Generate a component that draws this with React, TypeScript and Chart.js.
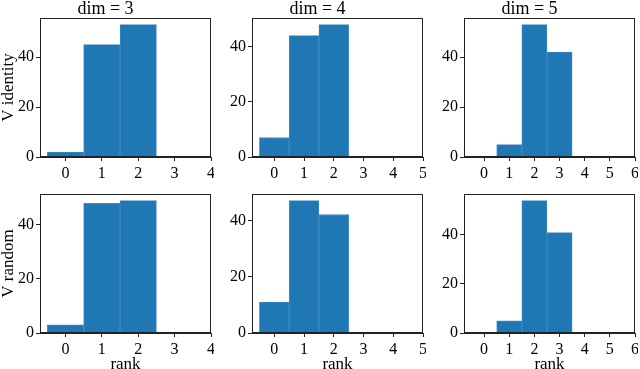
import React, { useEffect, useRef } from "react";
import { Chart, registerables } from "chart.js";

Chart.register(...registerables);

const dims = [3, 4, 5];
const titles = ["dim = 3", "dim = 4", "dim = 5"];
const rowLabels = ["V identity", "V random"];
const xLabel = "rank";

const ranks3 = [0, 1, 2, 3];
const ranks4 = [0, 1, 2, 3, 4];
const ranks5 = [0, 1, 2, 3, 4, 5];

const vIdentity3 = [2, 45, 53, 0];
const vIdentity4 = [7, 44, 48, 0, 0];
const vIdentity5 = [0, 5, 53, 42, 0, 0];

const vRandom3 = [3, 48, 49, 0];
const vRandom4 = [11, 47, 42, 0, 0];
const vRandom5 = [0, 5, 54, 41, 0, 0];

const xTicks3 = [0, 1, 2, 3, 4];
const xTicks4 = [0, 1, 2, 3, 4, 5];
const xTicks5 = [0, 1, 2, 3, 4, 5, 6];
const yTicks = [0, 20, 40];

const ranksByCol = [ranks3, ranks4, ranks5];
const xTicksByCol = [xTicks3, xTicks4, xTicks5];
const countsByRow = [
  [vIdentity3, vIdentity4, vIdentity5],
  [vRandom3, vRandom4, vRandom5],
];

const FONT = "'Liberation Serif', 'Times New Roman', serif";
const BAR = "#1f77b4";
const BAR_EDGE = "#4a8fc6";

// layout (pixels)
const PAD_L = 40;
const PAD_R = 3;
const PAD_T = 18;
const PAD_B = 36;
const PLOT_W = 171;
const PLOT_H = 139;
const COL_LEFT = [1, 213, 425];
const ROW_TOP = [0, 176];

const framePlugin = {
  id: "frame",
  afterDraw(chart: any) {
    const { ctx, chartArea } = chart;
    const l = Math.round(chartArea.left) + 0.5;
    const t = Math.round(chartArea.top) + 0.5;
    const r = Math.round(chartArea.right) - 0.5;
    const b = Math.round(chartArea.bottom) - 0.5;
    ctx.save();
    ctx.strokeStyle = "#222";
    ctx.lineWidth = 1;
    ctx.strokeRect(l, t, r - l, b - t);
    ctx.restore();
  },
};

function Panel({ row, col }: { row: number; col: number }) {
  const ref = useRef<HTMLCanvasElement>(null);
  useEffect(() => {
    const dim = dims[col];
    const ranks = ranksByCol[col];
    const counts = countsByRow[row][col];
    const xTicks = xTicksByCol[col];
    const maxCount = Math.max(...counts);
    const xmin = -0.5 - 0.05 * (dim + 1);
    const xmax = dim + 1;
    const chart = new Chart(ref.current as HTMLCanvasElement, {
      type: "bar",
      data: {
        datasets: [
          {
            data: ranks.map((r, i) => ({ x: r, y: counts[i] })),
            backgroundColor: BAR,
            borderColor: BAR_EDGE,
            borderWidth: 0.8,
            borderSkipped: "bottom",
            barPercentage: 1,
            categoryPercentage: 1,
          },
        ],
      },
      plugins: [framePlugin],
      options: {
        animation: false,
        responsive: false,
        maintainAspectRatio: false,
        events: [],
        layout: {
          padding: { top: row === 0 ? 0 : PAD_T, right: PAD_R, left: 0, bottom: 0 },
        },
        plugins: {
          legend: { display: false },
          tooltip: { enabled: false },
          title: {
            display: row === 0,
            text: titles[col],
            color: "#000",
            font: { family: FONT, size: 18, weight: "normal", lineHeight: 1 },
            padding: { top: 0, bottom: PAD_T - 18 },
          },
        },
        scales: {
          x: {
            type: "linear",
            min: xmin,
            max: xmax,
            offset: false,
            grid: {
              display: true,
              drawOnChartArea: false,
              drawTicks: true,
              tickLength: 4,
              tickColor: "#222",
              tickWidth: 1,
              offset: false,
            },
            border: { display: true, color: "#222", width: 1 },
            afterBuildTicks: (scale: any) => {
              scale.ticks = xTicks.map((v) => ({ value: v }));
            },
            afterFit: (scale: any) => {
              scale.height = PAD_B;
              scale.paddingLeft = 0;
              scale.paddingRight = 0;
            },
            ticks: {
              color: "#000",
              font: { family: FONT, size: 16 },
              padding: 3,
              maxRotation: 0,
              autoSkip: false,
              callback: (v: any) => String(v),
            },
            title: {
              display: row === 1,
              text: xLabel,
              color: "#000",
              font: { family: FONT, size: 17, lineHeight: 1 },
              padding: { top: 0, bottom: -4 },
            },
          },
          y: {
            type: "linear",
            min: 0,
            max: maxCount * 1.05,
            grid: {
              display: true,
              drawOnChartArea: false,
              drawTicks: true,
              tickLength: 4,
              tickColor: "#222",
              tickWidth: 1,
            },
            border: { display: true, color: "#222", width: 1 },
            afterBuildTicks: (scale: any) => {
              scale.ticks = yTicks.map((v) => ({ value: v }));
            },
            afterFit: (scale: any) => {
              scale.width = PAD_L;
              scale.paddingTop = 0;
              scale.paddingBottom = 0;
            },
            ticks: {
              color: "#000",
              font: { family: FONT, size: 16 },
              padding: 2,
              autoSkip: false,
              callback: (v: any) => String(v),
            },
            title: {
              display: col === 0,
              text: rowLabels[row],
              color: "#000",
              font: { family: FONT, size: 17, lineHeight: 1 },
              padding: { top: 0, bottom: 0 },
            },
          },
        },
      } as any,
    });
    return () => chart.destroy();
  }, [row, col]);

  const w = PAD_L + PLOT_W + PAD_R;
  const h = PAD_T + PLOT_H + PAD_B;
  return (
    <div
      style={{
        position: "absolute",
        left: COL_LEFT[col] - 1,
        top: ROW_TOP[row],
        width: w,
        height: h,
      }}
    >
      <canvas ref={ref} width={w} height={h} style={{ width: w, height: h, display: "block" }} />
    </div>
  );
}

export default function App() {
  const panels: React.ReactNode[] = [];
  for (let r = 0; r < 2; r++) {
    for (let c = 0; c < 3; c++) {
      panels.push(<Panel key={`${r}-${c}`} row={r} col={c} />);
    }
  }
  return (
    <div
      style={{
        position: "fixed",
        left: 0,
        top: 0,
        width: 640,
        height: 369,
        background: "#fff",
        overflow: "hidden",
      }}
    >
      {panels}
    </div>
  );
}
